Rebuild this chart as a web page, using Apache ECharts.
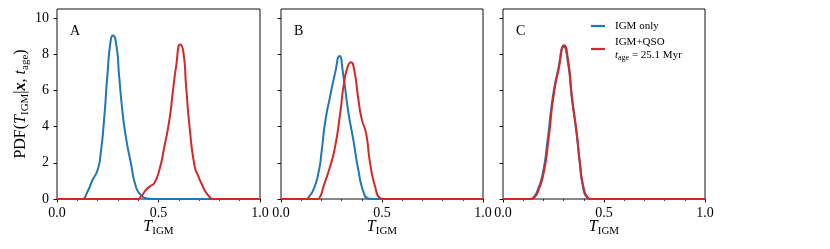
<!DOCTYPE html>
<html><head><meta charset="utf-8">
<script src="https://cdn.jsdelivr.net/npm/echarts@6/dist/echarts.min.js"></script>
<style>html,body{margin:0;padding:0;background:#fff}#c{width:830px;height:249px}</style>
</head><body><div id="c"></div>
<script>
// ---------- data ----------
const panelLabels = ['A', 'B', 'C'];
const seriesNames = ['IGM only', 'IGM+QSO'];
const xTicks = [0, 0.5, 1];
const yTicks = [0, 2, 4, 6, 8, 10];

// Panel A
const aIgmT   = [0, 0.11, 0.125, 0.15, 0.175, 0.2, 0.215, 0.232, 0.248, 0.265, 0.276, 0.293, 0.306, 0.322, 0.339, 0.364, 0.389, 0.413, 0.45, 0.47, 1.0];
const aIgmPdf = [0, 0, 0, 0.4, 1.05, 1.6, 2.5, 4.4, 6.8, 8.8, 9.04, 8.45, 6.8, 4.9, 3.45, 1.98, 0.68, 0.22, 0.02, 0, 0];
const aQsoT   = [0, 0.38, 0.395, 0.415, 0.438, 0.46, 0.479, 0.504, 0.529, 0.554, 0.570, 0.587, 0.607, 0.623, 0.636, 0.653, 0.678, 0.695, 0.711, 0.744, 0.775, 0.79, 1.0];
const aQsoPdf = [0, 0, 0, 0.15, 0.5, 0.72, 0.87, 1.6, 2.9, 4.4, 5.86, 7.34, 8.54, 8.08, 6.23, 4.0, 1.8, 1.3, 0.87, 0.22, 0, 0, 0];

// Panel B
const bIgmT   = [0, 0.11, 0.125, 0.14, 0.16, 0.185, 0.202, 0.218, 0.243, 0.268, 0.289, 0.309, 0.334, 0.358, 0.383, 0.408, 0.43, 0.45, 1.0];
const bIgmPdf = [0, 0, 0, 0.15, 0.5, 1.42, 2.7, 4.2, 5.67, 6.97, 7.9, 6.78, 4.75, 3.27, 1.6, 0.4, 0.03, 0, 0];
const bQsoT   = [0, 0.165, 0.18, 0.195, 0.21, 0.243, 0.268, 0.293, 0.312, 0.331, 0.346, 0.362, 0.383, 0.400, 0.421, 0.441, 0.466, 0.49, 0.51, 1.0];
const bQsoPdf = [0, 0, 0, 0.15, 0.68, 1.8, 2.9, 4.75, 6.4, 7.34, 7.56, 7.15, 5.5, 4.4, 3.64, 1.98, 0.68, 0.05, 0, 0];

// Panel C
const cIgmT   = [0, 0.12, 0.135, 0.155, 0.172, 0.197, 0.221, 0.247, 0.273, 0.301, 0.322, 0.34, 0.364, 0.38, 0.396, 0.415, 0.44, 0.46, 1.0];
const cIgmPdf = [0, 0, 0, 0.15, 0.5, 1.42, 3.27, 5.67, 7.15, 8.42, 7.5, 5.67, 3.64, 1.98, 0.68, 0.1, 0, 0, 0];
const cQsoT   = [0, 0.125, 0.14, 0.16, 0.176, 0.201, 0.225, 0.250, 0.275, 0.303, 0.324, 0.341, 0.365, 0.381, 0.398, 0.418, 0.44, 0.46, 1.0];
const cQsoPdf = [0, 0, 0, 0.15, 0.5, 1.42, 3.27, 5.67, 7.15, 8.49, 7.53, 5.67, 3.64, 1.98, 0.68, 0.1, 0, 0, 0];

const panels = [
  [[aIgmT, aIgmPdf], [aQsoT, aQsoPdf]],
  [[bIgmT, bIgmPdf], [bQsoT, bQsoPdf]],
  [[cIgmT, cIgmPdf], [cQsoT, cQsoPdf]]
];

// ---------- style ----------
const FONT = '"Liberation Serif", "Times New Roman", serif';
const COLORS = ['#1f77b4', '#d62728'];
const gridLefts = [57, 281, 503];
const gridWidths = [203, 202, 202];

const richMath = {
  r: { fontFamily: FONT, fontSize: 16, color: '#000', lineHeight: 20, verticalAlign: 'middle' },
  i: { fontFamily: FONT, fontSize: 16, color: '#000', fontStyle: 'italic', lineHeight: 20, verticalAlign: 'middle' },
  b: { fontFamily: FONT, fontSize: 16, color: '#000', fontStyle: 'italic', fontWeight: 'bold', lineHeight: 20, verticalAlign: 'middle' },
  s: { fontFamily: FONT, fontSize: 11, color: '#000', verticalAlign: 'bottom' }
};

const grids = [], xAxes = [], yAxes = [], series = [], graphics = [];
for (let p = 0; p < 3; p++) {
  grids.push({ left: gridLefts[p], top: 9, width: gridWidths[p], height: 190, show: true,
               borderColor: '#111', borderWidth: 1, backgroundColor: 'transparent' });
  xAxes.push({
    type: 'value', gridIndex: p, min: 0, max: 1, interval: 0.5,
    axisLine: { show: false },
    axisTick: { show: true, length: 3.5, lineStyle: { color: '#111', width: 1 } },
    minorTick: { show: true, splitNumber: 5, length: 2, lineStyle: { color: '#111', width: 0.8 } },
    splitLine: { show: false }, minorSplitLine: { show: false },
    axisLabel: { show: true, margin: 7, color: '#000', fontFamily: FONT, fontSize: 14,
                 formatter: v => v.toFixed(1), customValues: xTicks, showMinLabel: true, showMaxLabel: true, hideOverlap: false },
    name: '{i|T}{s|IGM}', nameLocation: 'middle', nameGap: 18, nameMoveOverlap: false,
    nameTextStyle: { rich: richMath }
  });
  yAxes.push({
    type: 'value', gridIndex: p, min: 0, max: 10.5, interval: 2,
    axisLine: { show: false },
    axisTick: { show: true, length: 3.5, lineStyle: { color: '#111', width: 1 }, customValues: yTicks },
    splitLine: { show: false },
    axisLabel: { show: p === 0, margin: 8, color: '#000', fontFamily: FONT, fontSize: 14, customValues: yTicks },
    name: p === 0 ? '{r|PDF(}{i|T}{s|IGM}{r||}{b|x}{r|, }{i|t}{s|age}{r|)}' : '',
    nameLocation: 'middle', nameRotate: 90, nameGap: 26, nameMoveOverlap: false,
    nameTextStyle: { rich: richMath }
  });
  panels[p].forEach((curve, k) => {
    series.push({
      type: 'line', name: seriesNames[k], xAxisIndex: p, yAxisIndex: p,
      data: curve[0].map((t, j) => [t, curve[1][j]]),
      showSymbol: false, symbol: 'none', smooth: 0.6,
      lineStyle: { color: COLORS[k], width: 2 }, itemStyle: { color: COLORS[k] },
      z: 3 + k, animation: false
    });
  });
  graphics.push({ type: 'text', left: gridLefts[p] + 13, top: 24,
                  style: { text: panelLabels[p], font: '14px ' + FONT, fill: '#000' } });
}

const chart = echarts.init(document.getElementById('c'), null, { renderer: 'canvas' });
chart.setOption({
  animation: false,
  backgroundColor: '#fff',
  grid: grids, xAxis: xAxes, yAxis: yAxes, series: series, graphic: graphics,
  legend: {
    data: seriesNames, orient: 'vertical', left: 591, top: 20, padding: 0,
    icon: 'rect', itemWidth: 14, itemHeight: 2.2, itemGap: 4,
    selectedMode: false,
    textStyle: {
      fontFamily: FONT, fontSize: 11, color: '#000', padding: [0, 0, 0, 5], lineHeight: 12,
      rich: {
        i: { fontFamily: FONT, fontSize: 11, fontStyle: 'italic', color: '#000', lineHeight: 14, verticalAlign: 'middle' },
        s: { fontFamily: FONT, fontSize: 8, color: '#000', verticalAlign: 'bottom' },
        n: { fontFamily: FONT, fontSize: 11, color: '#000', lineHeight: 14, verticalAlign: 'middle' }
      }
    },
    formatter: name => name === 'IGM+QSO' ? 'IGM+QSO\n{i|t}{s|age}{n| = 25.1 Myr}' : name
  }
});
</script></body></html>
